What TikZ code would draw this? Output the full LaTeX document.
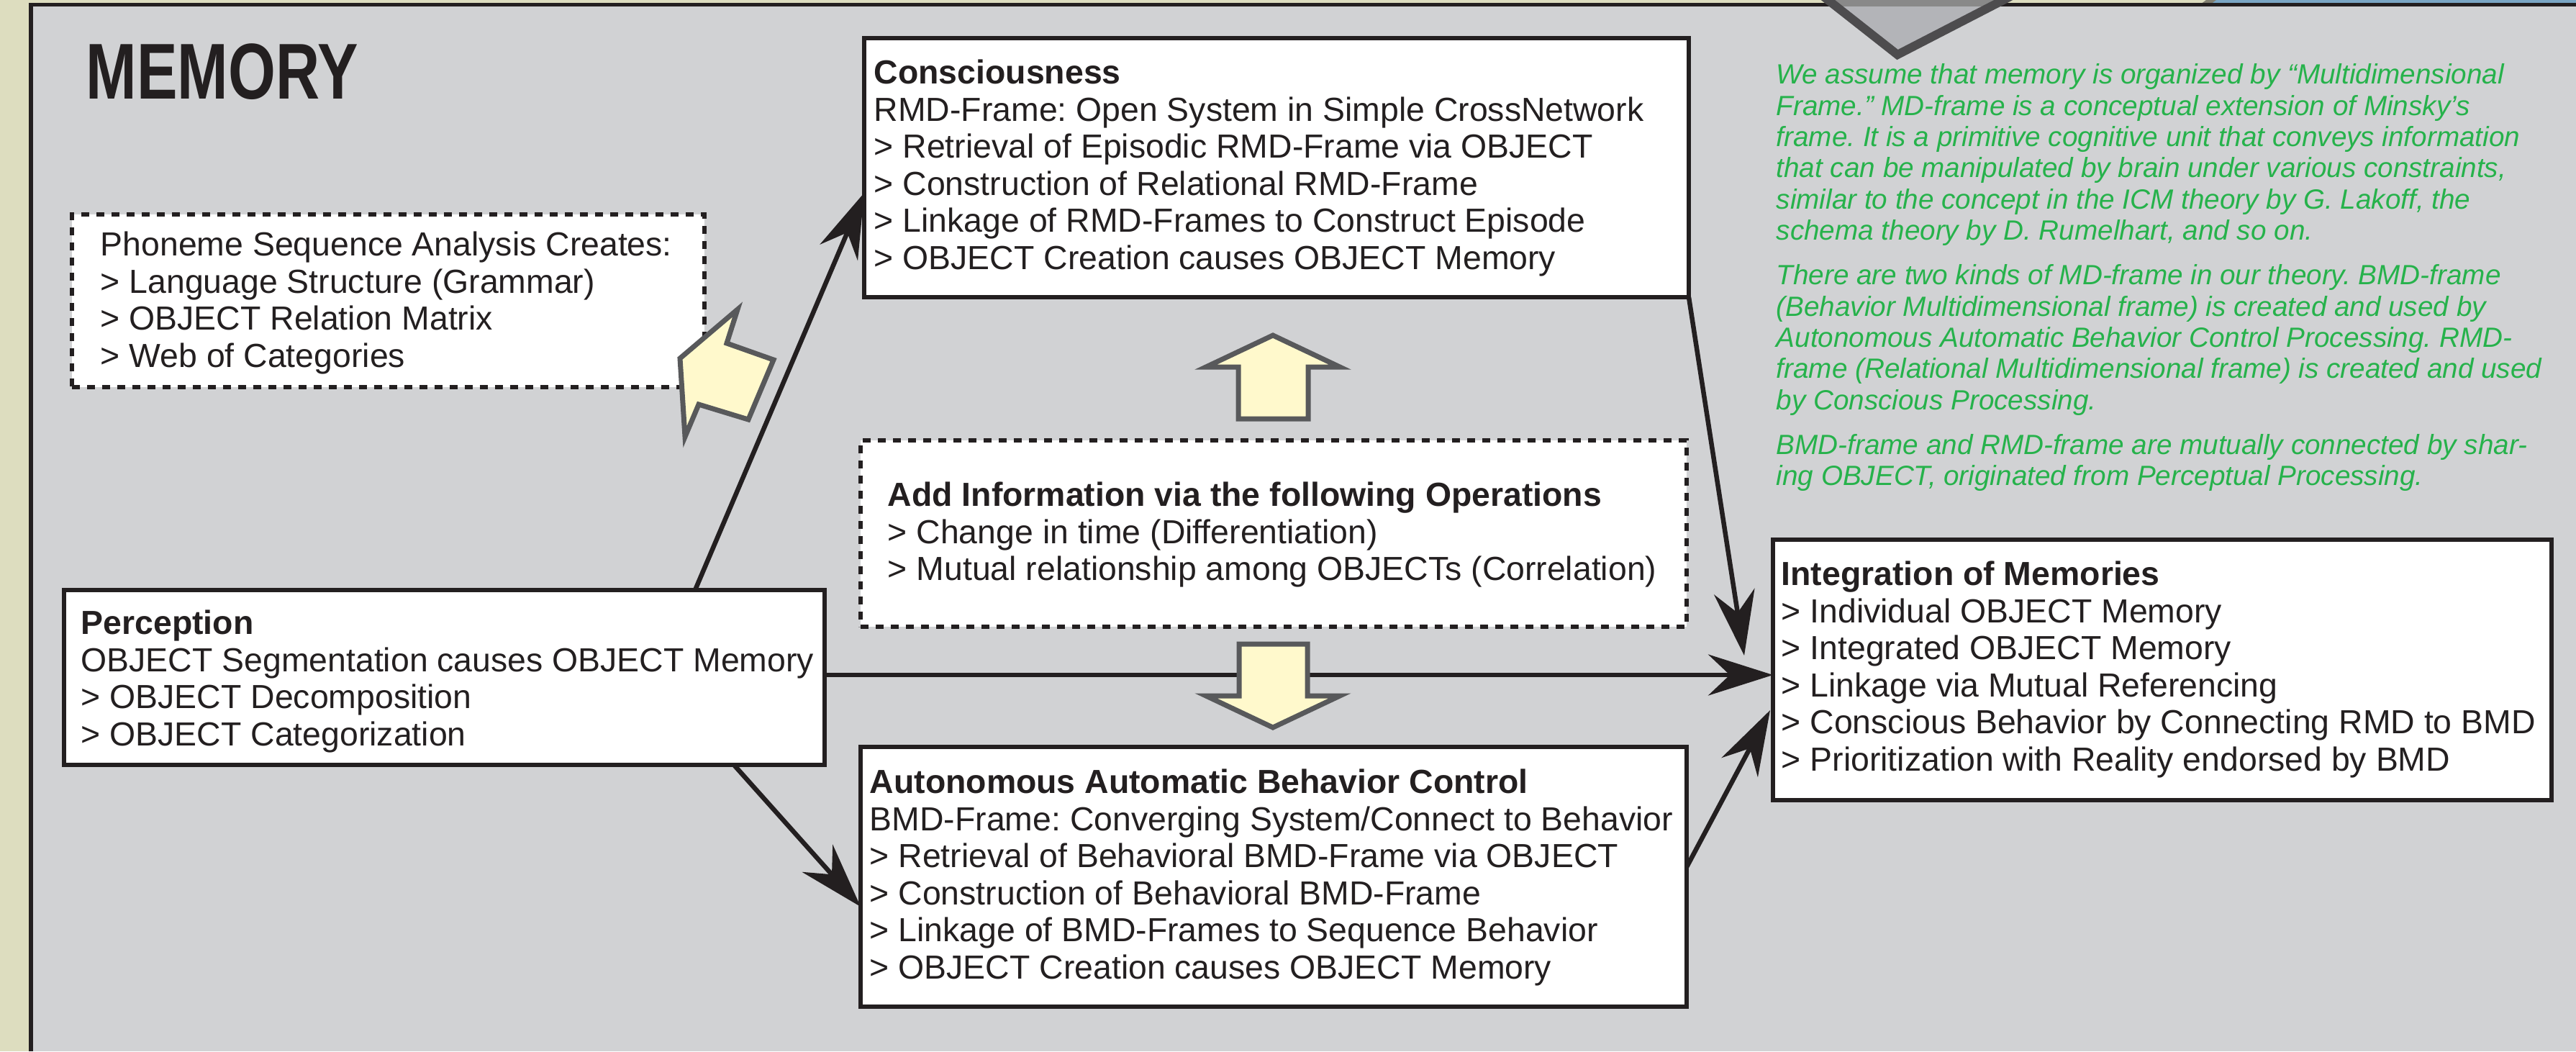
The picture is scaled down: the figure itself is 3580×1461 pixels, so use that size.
\documentclass[tikz,border=0pt]{standalone}
\usepackage{fontspec}
\setmainfont{Liberation Sans}
\newfontfamily\titlefont{Liberation Sans}[FakeStretch=0.77]
\usetikzlibrary{arrows.meta,calc}
\frenchspacing

\definecolor{panelgray}{RGB}{209,210,212}
\definecolor{stripbeige}{RGB}{221,221,191}
\definecolor{stripblue}{RGB}{122,166,196}
\definecolor{stripedge}{RGB}{128,126,112}
\definecolor{inkblack}{RGB}{35,31,32}
\definecolor{notegreen}{RGB}{38,178,75}
\definecolor{hintfill}{RGB}{255,249,204}
\definecolor{hintedge}{RGB}{88,89,91}
\definecolor{markfill}{RGB}{179,180,184}
\definecolor{markdark}{RGB}{137,137,137}
\definecolor{markedge}{RGB}{77,76,78}

\tikzset{
  boxframe/.style={draw=inkblack, line width=0.55mm, fill=white, inner sep=0pt, outer sep=0pt, anchor=north west},
  dashframe/.style={boxframe, dash pattern=on 1.1mm off 1.0mm},
  boxtext/.style={anchor=north west, inner sep=0pt, align=left, text=inkblack,
    font=\fontsize{13.2}{14.65}\selectfont},
  greennote/.style={anchor=north west, inner sep=0pt, align=left, text=notegreen,
    font=\fontsize{11}{12.35}\selectfont\itshape},
  flowarrow/.style={draw=inkblack, line width=0.65mm,
    -{Stealth[length=9mm, width=5.7mm, inset=3mm]}},
  hintarrow/.style={fill=hintfill, draw=hintedge, line width=0.7mm, line join=miter},
}

\begin{document}
\begin{tikzpicture}[x=0.1mm, y=-0.1mm]
\useasboundingbox (0,0) rectangle (3580,1461);

% panel background, outer strips and panel border
\fill[panelgray] (0,0) rectangle (3580,1461);
\fill[stripbeige] (0,0) rectangle (40,1461);
\fill[stripbeige] (0,0) rectangle (3068,4.5);
\fill[stripblue] (3072,0) rectangle (3580,4.5);
\fill[stripedge] (3066,0) -- (3080,0) -- (3074,4.5) -- (3060,4.5) -- cycle;
\draw[inkblack, line width=0.55mm] (43,1461) -- (43,6.5) -- (3580,6.5);

% pointer triangle hanging from the top edge
\fill[markfill] (2515,-20) -- (2637,76) -- (2823,-20) -- cycle;
\begin{scope}
  \clip (2515,-20) -- (2637,76) -- (2823,-20) -- cycle;
  \fill[markdark] (2400,-20) rectangle (2900,9);
\end{scope}
\draw[markedge, line width=1.2mm, line join=miter] (2515,-20) -- (2637,76) -- (2823,-20);

% heading
\node[anchor=base west, inner sep=0pt, text=inkblack,
      font=\titlefont\fontsize{31.3}{36}\selectfont\bfseries] (title) at (119,137) {MEMORY};

% boxes
\node[dashframe, minimum width=87.9mm, minimum height=24mm] (phon) at (100,298) {};
\node[boxframe, minimum width=114.6mm, minimum height=36mm] (cons) at (1201,53) {};
\node[dashframe, minimum width=114.8mm, minimum height=25.9mm] (ops) at (1196,612) {};
\node[boxframe, minimum width=105.7mm, minimum height=24.3mm] (perc) at (89,820) {};
\node[boxframe, minimum width=114.8mm, minimum height=36.1mm] (auto) at (1196,1038) {};
\node[boxframe, minimum width=108.2mm, minimum height=36.2mm] (integ) at (2464,750) {};

% box contents
\node[boxtext] (phonT) at ($(phon.north west)+(39,20)$) {\rule{0pt}{0.8em}Phoneme Sequence Analysis Creates:\\
> Language Structure (Grammar)\\
> OBJECT Relation Matrix\\
> Web of Categories};

\node[boxtext] (consT) at ($(cons.north west)+(13,26)$) {\rule{0pt}{0.8em}\textbf{Consciousness}\\
RMD-Frame: Open System in Simple CrossNetwork\\
> Retrieval of Episodic RMD-Frame via OBJECT\\
> Construction of Relational RMD-Frame\\
> Linkage of RMD-Frames to Construct Episode\\
> OBJECT Creation causes OBJECT Memory};

\node[boxtext] (opsT) at ($(ops.north west)+(37,54)$) {\rule{0pt}{0.8em}\textbf{Add Information via the following Operations}\\
> Change in time (Differentiation)\\
> Mutual relationship among OBJECTs (Correlation)};

\node[boxtext] (percT) at ($(perc.north west)+(23,24)$) {\rule{0pt}{0.8em}\textbf{Perception}\\
OBJECT Segmentation causes OBJECT Memory\\
> OBJECT Decomposition\\
> OBJECT Categorization};

\node[boxtext] (autoT) at ($(auto.north west)+(12,27)$) {\rule{0pt}{0.8em}\textbf{Autonomous Automatic Behavior Control}\\
BMD-Frame: Converging System/Connect to Behavior\\
> Retrieval of Behavioral BMD-Frame via OBJECT\\
> Construction of Behavioral BMD-Frame\\
> Linkage of BMD-Frames to Sequence Behavior\\
> OBJECT Creation causes OBJECT Memory};

\node[boxtext] (integT) at ($(integ.north west)+(11,26)$) {\rule{0pt}{0.8em}\textbf{Integration of Memories}\\
> Individual OBJECT Memory\\
> Integrated OBJECT Memory\\
> Linkage via Mutual Referencing\\
> Conscious Behavior by Connecting RMD to BMD\\
> Prioritization with Reality endorsed by BMD};

% explanatory notes
\node[greennote] (notes) at (2468,85) {\rule{0pt}{0.8em}We assume that memory is organized by “Multidimensional\\
Frame.” MD-frame is a conceptual extension of Minsky’s\\
frame. It is a primitive cognitive unit that conveys information\\
that can be manipulated by brain under various constraints,\\
similar to the concept in the ICM theory by G. Lakoff, the\\
schema theory by D. Rumelhart, and so on.\\[1.86mm]
There are two kinds of MD-frame in our theory. BMD-frame\\
(Behavior Multidimensional frame) is created and used by\\
Autonomous Automatic Behavior Control Processing. RMD-\\
frame (Relational Multidimensional frame) is created and used\\
by Conscious Processing.\\[1.86mm]
BMD-frame and RMD-frame are mutually connected by shar-\\
ing OBJECT, originated from Perceptual Processing.};

% connectors
\draw[flowarrow] ($(perc.north west)+(877,0)$) -- ($(cons.north west)+(0,215)$);
\draw[flowarrow] ($(perc.south west)+(931,0)$) -- ($(auto.north west)+(0,222)$);
\draw[flowarrow] ($(perc.north east)+(0,118)$) -- ($(integ.north west)+(0,188)$);
\draw[flowarrow] (cons.south east) -- ($(integ.north west)+(-40,161)$);
\draw[flowarrow] ($(auto.north east)+(0,167)$) -- ($(integ.north west)+(-4,237)$);

% block arrows
\draw[hintarrow] (945,498) -- (1025,430) -- (1010,477) -- (1075,500) -- (1040,583)
  -- (971,562) -- (952,607) -- cycle;
\draw[hintarrow] (1769,466) -- (1862,510) -- (1818,510) -- (1818,582) -- (1721,582)
  -- (1721,510) -- (1676,510) -- cycle;
\draw[hintarrow] (1722,895) -- (1817,895) -- (1817,967) -- (1862,967) -- (1769,1011)
  -- (1676,967) -- (1722,967) -- cycle;
\end{tikzpicture}
\end{document}
